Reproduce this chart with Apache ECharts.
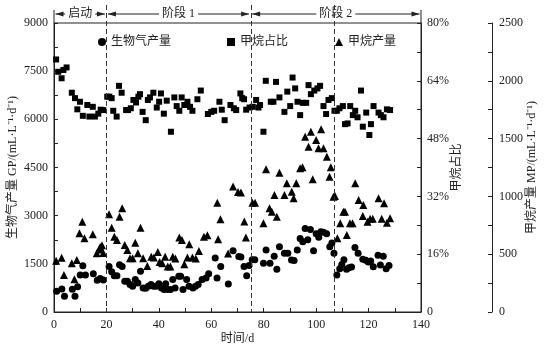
<!DOCTYPE html>
<html>
<head>
<meta charset="utf-8">
<script src="https://cdn.jsdelivr.net/npm/echarts@6/dist/echarts.min.js"></script>
<style>
  html, body { margin: 0; padding: 0; background: #fff; }
  #chart { width: 545px; height: 351px; }
</style>
</head>
<body>
<div id="chart"></div>
<script>
// biogas production GP, [day, mL/(L·d)]
const gpData = [
  [1,650],[3,720],[4,490],[7,710],[8,490],[9,790],[10,1150],[11,1440],[12,1150],[15,1190],
  [16.5,990],[17.6,1040],[18.8,1000],[21,1420],[22,1250],[23,1130],[24,1130],[25,1470],[26,1420],[27,960],
  [28,960],[29,860],[30,800],[31,1010],[32,900],[33,1270],[34,750],[35,740],[36,800],[37,860],
  [38,800],[39,800],[40,880],[41,750],[42,700],[42.6,880],[43.4,700],[44.4,700],[45.3,1010],[46.2,750],
  [47.6,1110],[48.3,1110],[49.2,700],[50.6,1010],[51.5,800],[53,750],[54,800],[55,860],[56.5,1010],[58,1060],
  [59,1190],[61.5,1680],[62.2,1060],[63.6,1420],[66.5,870],[68.3,1910],[70.5,1730],[71.3,1710],[72.5,1420],[73.5,1130],
  [74.4,1450],[75.6,1630],[76.6,1630],[79.9,1520],[80.9,1930],[82.4,1520],[84,1740],[85,1330],[86,2030],[87.9,1830],
  [89.2,1830],[90.6,1620],[91.6,1600],[92.8,1930],[93.9,2290],[94.9,2190],[95.8,2600],[96.8,2250],[97.8,2570],[99,1910],
  [100,2440],[101,2330],[101.8,2500],[102.8,2480],[104,2440],[105.2,2030],[106,2150],[106.8,1830],[107.9,1150],[109,1350],
  [109.8,1480],[110.6,1630],[111.6,1330],[112.5,1380],[113.5,1400],[114.8,2010],[116,1830],[117.8,1640],[118.9,1610],[119.9,1560],
  [120.8,1590],[121.8,1410],[123.6,1770],[124.5,1460],[125.6,1740],[126.7,1350],[127.8,1450]
];

// methane share, [day, %]
const ratioData = [
  [0.8,69.9],[1.6,66.5],[2.9,64.7],[3.6,67],[4.8,67.7],[6.8,60.7],[8,59.2],[8.9,56.1],[9.9,58.2],[11,54.3],
  [12.7,57.3],[13.5,54.1],[14.8,56.8],[15.6,54.1],[16.9,54.9],[17.8,56],[18.8,55.9],[20.3,59.6],[21.1,59.6],[22,59.2],
  [22.6,55.7],[23.9,54.1],[24.8,62.6],[25.8,60.7],[27.5,55.9],[28.2,55.9],[29.3,56.4],[30.3,58.7],[31.3,58],[32.2,59.6],
  [32.8,60.3],[33.8,55.4],[35,53.1],[35.8,58.7],[36.6,59.4],[37.9,60.7],[39.2,56.6],[40.1,58.2],[40.8,60.5],[41.9,54.9],
  [43,58.5],[44.6,49.9],[45.9,59.4],[46.8,57],[47.8,55.7],[48.7,59.4],[49.7,57.3],[50.9,58.2],[51.9,56.8],[52.8,55.7],
  [54.7,58.9],[56,61.3],[58.7,54.8],[60,55.4],[61.1,55.7],[63.1,58.2],[64,56],[65.1,53.1],[67.3,57.3],[68.6,56.4],
  [69.5,55.9],[71.1,60.5],[71.8,59.2],[72.5,58.9],[73.3,56],[74.6,56.6],[75.8,56.8],[77.1,58.7],[78,56.6],[78.6,57.3],
  [79.9,49.9],[80.8,64],[82.7,58.2],[83.7,58.2],[84.7,63.7],[86,59.4],[87.9,55.4],[89,61],[90.1,57],[91,64.9],
  [92,61.9],[92.9,58.2],[93.9,54.5],[94.9,57.9],[96.2,57.9],[97.1,62.8],[98,60.3],[99.3,61.3],[100.5,61.9],[101.5,62.6],
  [102.8,57],[103.8,54.8],[104.7,58.7],[106,59.2],[107,55.7],[107.9,55.7],[108.9,56.4],[110.2,57],[111,52],[112,52.2],
  [113,57],[114,54.5],[114.9,55.7],[115.8,53.9],[117.1,61.3],[117.8,51.3],[119.1,55.2],[120.3,49],[120.9,52],[121.9,57],
  [123.8,55.2],[124.7,54.5],[125.7,53.9],[127,56.1],[128.2,55.9]
];

// methane production MP, [day, mL/(L·d)]
const mpData = [
  [0.8,444],[2.9,470],[3.8,320],[6.8,421],[7.8,283],[8.7,450],[9.7,681],[10.8,781],[11.6,637],[14.8,672],
  [16.3,508],[17.2,540],[17.6,562],[18.3,577],[18.8,510],[21,845],[22,729],[23,651],[24,623],[25,824],
  [26,897],[27,580],[28,536],[29,464],[30,464],[31,599],[32,508],[33,729],[34,464],[35.6,398],
  [37.1,479],[38.1,471],[39.6,519],[40.3,433],[41.3,421],[42.4,479],[43.4,393],[44.4,393],[45.3,479],[46.3,462],
  [47.8,644],[48.8,623],[49.7,413],[50.9,471],[51.6,586],[52.8,471],[54.1,462],[55.3,528],[57.2,652],[58.5,663],
  [62.3,946],[62.6,629],[63.5,802],[66.4,505],[68.3,1085],[70.2,1038],[71.3,1033],[72.6,782],[73.2,644],[75.7,946],
  [76.7,946],[79.9,767],[80.9,1234],[82.2,897],[83.1,868],[84.1,1012],[85,825],[86,1205],[87.9,1012],[88.8,1113],
  [90.7,1041],[91.4,983],[92.4,1113],[93.9,1243],[94.8,1252],[95.8,1517],[97.1,1430],[98,1560],[98.7,1148],[100,1488],
  [100.9,1416],[101.9,1580],[102.8,1416],[104.1,1343],[105.1,1170],[105.6,1252],[106.6,997],[107.2,1003],[108.1,637],[109.2,767],
  [110.4,868],[111,868],[111.7,666],[112.9,767],[113.9,767],[114.9,1113],[116.2,969],[117.8,830],[118,926],[119.6,781],
  [120.6,807],[121.6,807],[123.8,983],[125,807],[125.9,940],[127,773],[128.2,811]
];

const stageEdges = [0, 20, 75, 140];
const stageNames = ['启动', '阶段 1', '阶段 2'];
const dividerDays = [20, 75, 107];

const FONT = '"Liberation Serif", "Noto Sans CJK SC", serif';
const INK = '#222';

const axisCommon = {
  axisLine: { show: true, lineStyle: { color: INK, width: 1 } },
  axisTick: { show: true, inside: true, length: 4, lineStyle: { color: INK } },
  minorTick: { show: true, splitNumber: 2, length: 4, lineStyle: { color: INK } },
  splitLine: { show: false },
  axisLabel: { color: INK, fontFamily: FONT, fontSize: 12, formatter: v => String(v) },
  nameTextStyle: { color: INK, fontFamily: FONT, fontSize: 12 },
  nameLocation: 'middle',
  nameMoveOverlap: false
};

const chart = echarts.init(document.getElementById('chart'), null, { renderer: 'canvas' });

const legendBase = {
  top: 31, itemWidth: 8, itemHeight: 8, itemGap: 0,
  textStyle: { color: INK, fontFamily: FONT, fontSize: 12 },
  selectedMode: false
};

const option = {
  animation: false,
  backgroundColor: '#fff',
  grid: {
    left: 54, right: 124, top: 23, bottom: 39,
    containLabel: false, outerBoundsMode: 'none',
    show: true, borderColor: INK, borderWidth: 1
  },
  legend: [
    Object.assign({ left: 93, data: [{ name: '生物气产量', icon: 'circle' }] }, legendBase),
    Object.assign({ left: 222, data: [{ name: '甲烷占比', icon: 'rect' }] }, legendBase),
    Object.assign({ left: 330, data: [{ name: '甲烷产量', icon: 'triangle' }] }, legendBase)
  ],
  xAxis: Object.assign({}, axisCommon, {
    type: 'value', min: 0, max: 140, interval: 20,
    name: '时间/d', nameGap: 21,
    axisLabel: Object.assign({}, axisCommon.axisLabel, { margin: 7 })
  }),
  yAxis: [
    Object.assign({}, axisCommon, {
      type: 'value', min: 0, max: 9000, interval: 1500, position: 'left',
      name: '生物气产量 GP/(mL·L⁻¹·d⁻¹)', nameGap: 35,
      axisLabel: Object.assign({}, axisCommon.axisLabel, { margin: 6 })
    }),
    Object.assign({}, axisCommon, {
      type: 'value', min: 0, max: 80, interval: 16, position: 'right',
      name: '甲烷占比', nameGap: 30,
      axisLabel: Object.assign({}, axisCommon.axisLabel, {
        margin: 6, formatter: v => (v === 0 ? '0' : v + '%')
      })
    }),
    Object.assign({}, axisCommon, {
      type: 'value', min: 0, max: 2500, interval: 500, position: 'right', offset: 71,
      name: '甲烷产量 MP/(mL·L⁻¹·d⁻¹)', nameGap: 34,
      axisLabel: Object.assign({}, axisCommon.axisLabel, { margin: 7 })
    })
  ],
  series: [
    {
      name: '生物气产量', type: 'scatter', yAxisIndex: 0, data: gpData,
      symbol: 'circle', symbolSize: 7, itemStyle: { color: '#000', opacity: 1 }
    },
    {
      name: '甲烷占比', type: 'scatter', yAxisIndex: 1, data: ratioData,
      symbol: 'rect', symbolSize: 6, itemStyle: { color: '#000', opacity: 1 }
    },
    {
      name: '甲烷产量', type: 'scatter', yAxisIndex: 2, data: mpData,
      symbol: 'triangle', symbolSize: 8, itemStyle: { color: '#000', opacity: 1 }
    }
  ]
};

chart.setOption(option);

// stage annotations above the plot and dashed dividers, placed via the axis scales
const xPx = v => chart.convertToPixel({ xAxisIndex: 0 }, v);
const yTop = chart.convertToPixel({ yAxisIndex: 0 }, 9000);
const yBot = chart.convertToPixel({ yAxisIndex: 0 }, 0);
const arrowY = yTop - 9;
const graphics = [];

[stageEdges[0], stageEdges[stageEdges.length - 1]].forEach(d => {
  const x = xPx(d);
  graphics.push({
    type: 'line', silent: true,
    shape: { x1: x, y1: arrowY - 4, x2: x, y2: yTop },
    style: { stroke: INK, lineWidth: 1 }
  });
});

for (let i = 0; i < stageNames.length; i++) {
  const a = xPx(stageEdges[i]) + 1.5;
  const b = xPx(stageEdges[i + 1]) - 1.5;
  graphics.push({
    type: 'line', silent: true,
    shape: { x1: a, y1: arrowY, x2: b, y2: arrowY },
    style: { stroke: INK, lineWidth: 1 }
  });
  graphics.push({
    type: 'polygon', silent: true,
    shape: { points: [[a, arrowY], [a + 8, arrowY - 2.5], [a + 8, arrowY + 2.5]] },
    style: { fill: INK }
  });
  graphics.push({
    type: 'polygon', silent: true,
    shape: { points: [[b, arrowY], [b - 8, arrowY - 2.5], [b - 8, arrowY + 2.5]] },
    style: { fill: INK }
  });
  graphics.push({
    type: 'text', silent: true, z: 10,
    x: (a + b) / 2, y: arrowY,
    style: {
      text: stageNames[i], fill: INK, font: '12px ' + FONT,
      align: 'center', verticalAlign: 'middle',
      backgroundColor: '#fff', padding: [0, 3]
    }
  });
}

dividerDays.forEach(d => {
  const x = Math.round(xPx(d)) + 0.5;
  graphics.push({
    type: 'line', silent: true, z: 20,
    shape: { x1: x, y1: 5, x2: x, y2: yBot },
    style: { stroke: '#333', lineWidth: 1, lineDash: [5, 3] }
  });
});

chart.setOption({ graphic: graphics });
</script>
</body>
</html>
